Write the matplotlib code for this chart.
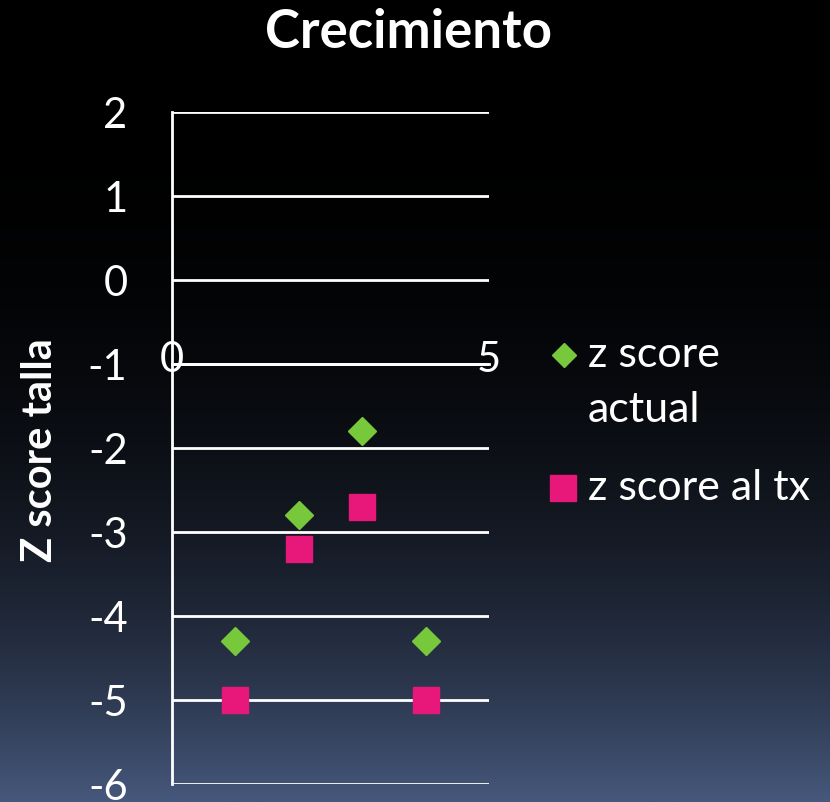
import numpy as np
import matplotlib
matplotlib.use("Agg")
import matplotlib.pyplot as plt
from matplotlib.lines import Line2D

# Data
x_vals = [1, 2, 3, 4]
z_actual = [-4.3, -2.8, -1.8, -4.3]
z_tx = [-5.0, -3.2, -2.7, -5.0]
series_labels = ["z score\nactual", "z score al tx"]
title = "Crecimiento"
ylabel = "Z score talla"
yticks = [2, 1, 0, -1, -2, -3, -4, -5, -6]
xticks = [0, 5]

FONT = "Lato"
GREEN = "#78c83c"
PINK = "#e8177a"

fig = plt.figure(figsize=(8.30, 8.02), dpi=100)

# gradient background
bg = fig.add_axes([0, 0, 1, 1], zorder=-10)
f = np.linspace(0, 1, 400)[:, None]
w = f ** 3
bottom = np.array([70, 88, 124]) / 255.0
img = np.zeros((400, 2, 3))
for c in range(3):
    img[:, :, c] = w * bottom[c]
bg.imshow(img, aspect="auto", extent=[0, 1, 1, 0])
bg.set_axis_off()

ax = fig.add_axes([172 / 830, 1 - 784 / 802, (489 - 172) / 830, (784 - 112) / 802])
ax.set_facecolor("none")
ax.set_xlim(0, 5)
ax.set_ylim(-6, 2)

for y in yticks:
    ax.axhline(y, color="white", lw=2, zorder=1)

ax.spines["right"].set_visible(False)
ax.spines["bottom"].set_visible(False)
ax.spines["left"].set_color("white")
ax.spines["left"].set_linewidth(2)
ax.spines["top"].set_position(("data", -1))
ax.spines["top"].set_color("white")
ax.spines["top"].set_linewidth(2)

ax.xaxis.set_ticks_position("top")
ax.set_xticks(xticks)
ax.set_xticklabels([str(t) for t in xticks])
ax.tick_params(axis="x", length=0, pad=-11, labelsize=30, labelcolor="white")
ax.set_yticks(yticks)
ax.set_yticklabels([str(t) for t in yticks])
ax.tick_params(axis="y", length=0, pad=32, labelsize=30, labelcolor="white")
for lbl in ax.get_xticklabels() + ax.get_yticklabels():
    lbl.set_fontfamily(FONT)

ax.plot(x_vals, z_actual, linestyle="none", marker="D", ms=14, color=GREEN,
        zorder=3, clip_on=False)
ax.plot(x_vals, z_tx, linestyle="none", marker="s", ms=19, color=PINK,
        zorder=3, clip_on=False)

fig.text(408 / 830, 1 - 33 / 802, title, ha="center", va="center",
         fontsize=38, fontweight="bold", color="white", fontfamily=FONT)
fig.text(40 / 830, 1 - 450 / 802, ylabel, ha="center", va="center",
         rotation=90, fontsize=30, fontweight="bold", color="white",
         fontfamily=FONT)

# legend (manual)
fig.add_artist(Line2D([564 / 830], [1 - 355 / 802], marker="D", ms=12,
                      color=GREEN, linestyle="none", transform=fig.transFigure))
fig.add_artist(Line2D([563 / 830], [1 - 488 / 802], marker="s", ms=19,
                      color=PINK, linestyle="none", transform=fig.transFigure))
fig.text(588 / 830, 1 - 355 / 802, "z score", ha="left", va="center",
         fontsize=31, color="white", fontfamily=FONT)
fig.text(588 / 830, 1 - 410 / 802, "actual", ha="left", va="center",
         fontsize=31, color="white", fontfamily=FONT)
fig.text(588 / 830, 1 - 488 / 802, series_labels[1], ha="left", va="center",
         fontsize=31, color="white", fontfamily=FONT)

fig.savefig("out.png", dpi=100, facecolor="black")
